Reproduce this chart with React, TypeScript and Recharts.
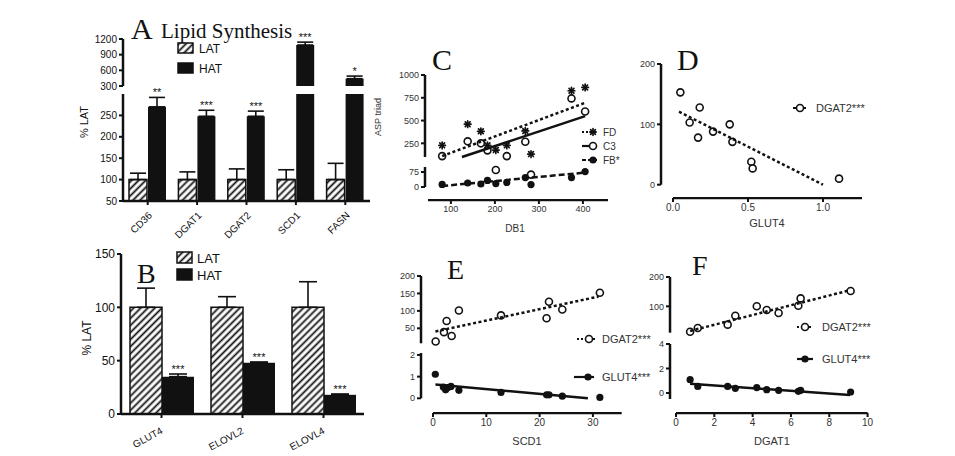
import React from "react";
import { Bar, BarChart, ErrorBar, LabelList, Scatter, ScatterChart, XAxis, YAxis } from "recharts";

const SANS = "'Liberation Sans', Arial, sans-serif";
const SERIF = "'Liberation Serif', 'Times New Roman', serif";
const INK = "#111";
const GREY = "#333";

// A: lipid synthesis genes (% of LAT)
const genesA = ["CD36", "DGAT1", "DGAT2", "SCD1", "FASN"];
const latA = [100, 100, 100, 100, 100];
const latErrA = [15, 18, 25, 23, 38];
const hatA = [270, 248, 248, 1085, 440];
const hatErrA = [22, 14, 12, 55, 50];
const sigA = ["**", "***", "***", "***", "*"];
const ticksATop = [300, 600, 900, 1200];
const ticksABottom = [50, 100, 150, 200, 250];
const breakA = 300;

// B: glucose uptake / elongases (% of LAT)
const genesB = ["GLUT4", "ELOVL2", "ELOVL4"];
const latB = [100, 100, 100];
const latErrB = [18, 10, 24];
const hatB = [35, 48, 18];
const hatErrB = [2.5, 0.8, 0.8];
const sigB = ["***", "***", "***"];
const ticksB = [0, 50, 100, 150];

// C: ASP triad vs DB1
const db1 = [80, 138, 168, 183, 202, 227, 269, 282, 374, 405];
const aspFD = [228, 460, 382, 228, 176, 228, 386, 132, 827, 864];
const aspC3 = [110, 272, 250, 173, 85, 110, 268, 62, 743, 600];
const aspFB = [13, 20, 15, 33, 17, 23, 47, 12, 47, 77];
const fitFdX = [80, 405];
const fitFdY = [110, 695];
const fitC3X = [125, 405];
const fitC3Y = [100, 548];
const fitFbX = [80, 405];
const fitFbY = [5, 72];

// D: DGAT2 vs GLUT4
const glut4D = [0.049, 0.111, 0.178, 0.167, 0.267, 0.378, 0.396, 0.522, 0.531, 1.107];
const dgat2D = [153, 103, 128, 78, 88, 100, 71, 38, 27, 10];
const fitDX = [0.04, 1.0];
const fitDY = [121, 0];

// E: DGAT2 and GLUT4 vs SCD1
const scd1Dgat2 = [0.44, 2, 2.5, 3.44, 4.8, 12.7, 21.25, 21.7, 24.2, 31.25];
const dgat2E = [12, 39, 71, 28, 101, 87, 79, 126, 104, 152];
const scd1Glut4 = [0.375, 1.875, 2.31, 2.69, 3.31, 4.8, 12.7, 21.25, 21.7, 24.2, 31.25];
const glut4E = [1.11, 0.52, 0.39, 0.49, 0.55, 0.37, 0.27, 0.16, 0.16, 0.1, 0.04];
const fitEDgat2X = [0.4, 31];
const fitEDgat2Y = [41, 141];
const fitEGlut4X = [0.4, 29];
const fitEGlut4Y = [0.64, 0];

// F: DGAT2 and GLUT4 vs DGAT1
const dgat1F = [0.75, 1.15, 2.71, 3.11, 4.23, 4.75, 5.37, 6.4, 6.52, 9.13];
const dgat2F = [13, 26, 37.5, 68, 100, 87.5, 77, 102, 127, 152];
const glut4F = [1.09, 0.54, 0.54, 0.38, 0.44, 0.27, 0.22, 0.14, 0.22, 0.08];
const fitFDgat2X = [0.75, 9.1];
const fitFDgat2Y = [16, 155];
const fitFGlut4X = [0.75, 9.1];
const fitFGlut4Y = [0.76, -0.16];

const pts = (xs: number[], ys: number[]) => xs.map((x, i) => ({ x, y: ys[i] }));
const above = (xs: number[], ys: number[], lo: number) => pts(xs, ys).filter((p) => p.y >= lo);
const below = (xs: number[], ys: number[], lo: number) => pts(xs, ys).filter((p) => p.y < lo);

type Keep = (v: number) => boolean;

// rows for one segment of a (possibly broken) bar axis; values outside the segment become gaps
const barRows = (genes: string[], lat: number[], latErr: number[], hat: number[], hatErr: number[], keep: Keep = () => true) =>
  genes.map((gene, i) => ({
    gene,
    idx: i,
    lat: keep(lat[i]) ? lat[i] : null,
    latErr: [0, latErr[i]],
    hat: keep(hat[i]) ? hat[i] : null,
    hatErr: [0, hatErr[i]],
  }));

const rowsATop = barRows(genesA, latA, latErrA, hatA, hatErrA, (v) => v > breakA);
const rowsABottom = barRows(genesA, latA, latErrA, hatA, hatErrA);
const rowsB = barRows(genesB, latB, latErrB, hatB, hatErrB);

type FrameOpts = { yw?: number; left?: number; top?: number; right?: number; bottom?: number; xh?: number };

// positions a fixed-size chart so its plot area lands on (x0,y0)-(x1,y1)
function frame(x0: number, y0: number, x1: number, y1: number, o: FrameOpts = {}) {
  const { yw = 40, left = 40, top = 10, right = 10, bottom = 0, xh = 0 } = o;
  return {
    style: { position: "absolute" as const, left: x0 - left, top: y0 - top },
    width: left + (x1 - x0) + right,
    height: top + (y1 - y0) + xh + bottom,
    margin: { top, right, bottom, left: left - yw },
  };
}

const yAxisStyle = (fontSize: number, fill: string) => ({
  width: 40,
  axisLine: { stroke: INK, strokeWidth: 2.5 },
  tickLine: { stroke: INK, strokeWidth: 2 },
  tickSize: 4,
  interval: 0 as const,
  allowDataOverflow: true,
  tick: { fontSize, fill, fontFamily: SANS },
});

const xAxisStyle = (fontSize: number, fill: string) => ({
  axisLine: { stroke: INK, strokeWidth: 2.5 },
  tickLine: { stroke: INK, strokeWidth: 2 },
  tickSize: 4,
  interval: 0 as const,
  tick: { fontSize, fill, fontFamily: SANS },
});

function Hatch() {
  return (
    <defs>
      <pattern id="hatch" width={5} height={5} patternUnits="userSpaceOnUse" patternTransform="rotate(45)">
        <rect width={5} height={5} fill="#fff" />
        <line x1={2.5} y1={0} x2={2.5} y2={5} stroke={INK} strokeWidth={1.8} />
      </pattern>
    </defs>
  );
}

function SlantTick(props: any) {
  const { x, y, payload, angle, dx, dy, size } = props;
  const ax = x + dx;
  const ay = y + dy;
  return (
    <text x={ax} y={ay} transform={`rotate(${angle} ${ax} ${ay})`} textAnchor="end" fontSize={size} fontFamily={SANS} fill={INK}>
      {payload.value}
    </text>
  );
}

// significance stars sit just above the error-bar cap
function sigLabel(sig: string[], vals: number[], errs: number[], k: number, keep: Keep) {
  return (p: any) => {
    const vb = p.viewBox ?? p;
    const i = Number(p.value);
    if (!keep(vals[i])) return null;
    const cx = vb.x + vb.width / 2;
    const capY = vb.y - errs[i] * k;
    return (
      <text key={i} x={cx} y={capY - 1} textAnchor="middle" fontSize={11} fontFamily={SANS} fill={INK}>
        {sig[i]}
      </text>
    );
  };
}

const OpenDot = (p: any) => <circle cx={p.cx} cy={p.cy} r={3.5} fill="#fff" stroke={INK} strokeWidth={1.6} />;
const FilledDot = (p: any) => <circle cx={p.cx} cy={p.cy} r={3.6} fill={INK} />;
const StarDot = (p: any) => (
  <g stroke={INK} strokeWidth={1.7} strokeLinecap="round">
    <line x1={p.cx - 3.3} y1={p.cy} x2={p.cx + 3.3} y2={p.cy} />
    <line x1={p.cx} y1={p.cy - 3.3} x2={p.cx} y2={p.cy + 3.3} />
    <line x1={p.cx - 2.4} y1={p.cy - 2.4} x2={p.cx + 2.4} y2={p.cy + 2.4} />
    <line x1={p.cx - 2.4} y1={p.cy + 2.4} x2={p.cx + 2.4} y2={p.cy - 2.4} />
  </g>
);
const NoDot = () => <g />;

const fitLine = (dash?: string) => ({ stroke: INK, strokeWidth: 2.5, strokeDasharray: dash });
const DOTTED = "3 2.5";
const DASHED = "6 3";

// plot boxes (page pixels)
const A_TOP = { x0: 123, y0: 39, x1: 370, y1: 86 };
const A_BOT = { x0: 123, y0: 94, x1: 370, y1: 201 };
const B_BOX = { x0: 121, y0: 254, x1: 364, y1: 414 };

function PanelA() {
  const top = frame(A_TOP.x0, A_TOP.y0, A_TOP.x1, A_TOP.y1, { top: 10, bottom: 6 });
  const bot = frame(A_BOT.x0, A_BOT.y0, A_BOT.x1, A_BOT.y1, { top: 10, xh: 45 });
  const kTop = (A_TOP.y1 - A_TOP.y0) / (1200 - breakA);
  const kBot = (A_BOT.y1 - A_BOT.y0) / (breakA - 50);
  const bars = (k: number, keep: Keep) => [
    <Bar key="lat" dataKey="lat" fill="url(#hatch)" stroke={INK} strokeWidth={1.5} isAnimationActive={false}>
      <ErrorBar dataKey="latErr" width={8} stroke={INK} strokeWidth={1.6} direction="y" />
    </Bar>,
    <Bar key="hat" dataKey="hat" fill={INK} isAnimationActive={false}>
      <ErrorBar dataKey="hatErr" width={8} stroke={INK} strokeWidth={1.6} direction="y" />
      <LabelList dataKey="idx" content={sigLabel(sigA, hatA, hatErrA, k, keep)} />
    </Bar>,
  ];
  return (
    <>
      <div style={top.style}>
        <BarChart width={top.width} height={top.height} margin={top.margin} data={rowsATop} barSize={18} barGap={1}>
          <Hatch />
          <XAxis dataKey="gene" hide />
          <YAxis {...yAxisStyle(10, INK)} domain={[breakA, 1200]} ticks={ticksATop} />
          {bars(kTop, (v) => v > breakA)}
        </BarChart>
      </div>
      <div style={bot.style}>
        <BarChart width={bot.width} height={bot.height} margin={bot.margin} data={rowsABottom} barSize={18} barGap={1}>
          <Hatch />
          <XAxis
            dataKey="gene"
            height={45}
            {...xAxisStyle(10, INK)}
            tick={<SlantTick angle={-45} dx={5} dy={9} size={10} />}
          />
          <YAxis {...yAxisStyle(10, INK)} domain={[50, breakA]} ticks={ticksABottom} />
          {bars(kBot, (v) => v <= breakA)}
        </BarChart>
      </div>
    </>
  );
}

function PanelB() {
  const f = frame(B_BOX.x0, B_BOX.y0, B_BOX.x1, B_BOX.y1, { top: 10, xh: 45 });
  const k = (B_BOX.y1 - B_BOX.y0) / 150;
  return (
    <div style={f.style}>
      <BarChart width={f.width} height={f.height} margin={f.margin} data={rowsB} barSize={32} barGap={0}>
        <Hatch />
        <XAxis dataKey="gene" height={45} {...xAxisStyle(10, INK)} tick={<SlantTick angle={-28} dx={2} dy={13} size={10} />} />
        <YAxis {...yAxisStyle(12, INK)} domain={[0, 150]} ticks={ticksB} />
        <Bar dataKey="lat" fill="url(#hatch)" stroke={INK} strokeWidth={1.5} isAnimationActive={false}>
          <ErrorBar dataKey="latErr" width={9} stroke={INK} strokeWidth={1.6} direction="y" />
        </Bar>
        <Bar dataKey="hat" fill={INK} isAnimationActive={false}>
          <ErrorBar dataKey="hatErr" width={9} stroke={INK} strokeWidth={1.6} direction="y" />
          <LabelList dataKey="idx" content={sigLabel(sigB, hatB, hatErrB, k, () => true)} />
        </Bar>
      </BarChart>
    </div>
  );
}

// bare x axis drawn a little below the y-axis segments
function AxisStrip(props: { x0: number; x1: number; y: number; domain: number[]; ticks: number[]; fmt?: (v: number) => string; size: number }) {
  const f = frame(props.x0, props.y - 1, props.x1, props.y, { yw: 0, left: 12, top: 0, right: 12, xh: 22 });
  return (
    <div style={f.style}>
      <ScatterChart width={f.width} height={f.height} margin={f.margin}>
        <XAxis
          type="number"
          dataKey="x"
          domain={props.domain}
          ticks={props.ticks}
          tickFormatter={props.fmt}
          height={22}
          allowDataOverflow
          {...xAxisStyle(props.size, GREY)}
        />
        <YAxis type="number" dataKey="y" domain={[0, 1]} hide />
        <Scatter data={[]} isAnimationActive={false} />
      </ScatterChart>
    </div>
  );
}

type Seg = { y0: number; y1: number; domain: number[]; ticks: number[] };

function ScatterSeg(props: { x0: number; x1: number; xDomain: number[]; seg: Seg; size: number; children: React.ReactNode }) {
  const { seg } = props;
  const f = frame(props.x0, seg.y0, props.x1, seg.y1, { top: 6, bottom: 6 });
  return (
    <div style={f.style}>
      <ScatterChart width={f.width} height={f.height} margin={f.margin}>
        <XAxis type="number" dataKey="x" domain={props.xDomain} hide />
        <YAxis type="number" dataKey="y" {...yAxisStyle(props.size, GREY)} allowDataOverflow={false} domain={seg.domain} ticks={seg.ticks} />
        {props.children}
      </ScatterChart>
    </div>
  );
}

function PanelC() {
  const xd = [41, 457];
  const top: Seg = { y0: 75, y1: 157, domain: [100, 1000], ticks: [250, 500, 750, 1000] };
  const bot: Seg = { y0: 166.7, y1: 186.7, domain: [0, 100], ticks: [0, 75] };
  return (
    <>
      <ScatterSeg x0={425} x1={608} xDomain={xd} seg={top} size={9}>
        <Scatter data={above(db1, aspFD, 100)} shape={StarDot} isAnimationActive={false} />
        <Scatter data={above(db1, aspC3, 100)} shape={OpenDot} isAnimationActive={false} />
        <Scatter data={pts(fitFdX, fitFdY)} line={fitLine(DOTTED)} shape={NoDot} isAnimationActive={false} />
        <Scatter data={pts(fitC3X, fitC3Y)} line={fitLine()} shape={NoDot} isAnimationActive={false} />
      </ScatterSeg>
      <ScatterSeg x0={425} x1={608} xDomain={xd} seg={bot} size={9}>
        <Scatter data={below(db1, aspC3, 100)} shape={OpenDot} isAnimationActive={false} />
        <Scatter data={pts(db1, aspFB)} shape={FilledDot} isAnimationActive={false} />
        <Scatter data={pts(fitFbX, fitFbY)} line={fitLine(DASHED)} shape={NoDot} isAnimationActive={false} />
      </ScatterSeg>
      <AxisStrip x0={428} x1={608} y={200} domain={[48, 457]} ticks={[100, 200, 300, 400]} size={9} />
    </>
  );
}

function PanelD() {
  const seg: Seg = { y0: 64.3, y1: 185, domain: [0, 200], ticks: [0, 100, 200] };
  return (
    <>
      <ScatterSeg x0={661} x1={862} xDomain={[-0.08, 1.26]} seg={seg} size={9}>
        <Scatter data={pts(glut4D, dgat2D)} shape={OpenDot} isAnimationActive={false} />
        <Scatter data={pts(fitDX, fitDY)} line={fitLine(DOTTED)} shape={NoDot} isAnimationActive={false} />
      </ScatterSeg>
      <AxisStrip x0={673} x1={862} y={197.7} domain={[0, 1.26]} ticks={[0, 0.5, 1]} fmt={(v) => v.toFixed(1)} size={10} />
    </>
  );
}

function PanelE() {
  const xd = [-2.31, 35.4];
  const top: Seg = { y0: 276, y1: 343.3, domain: [7, 200], ticks: [50, 100, 150, 200] };
  const bot: Seg = { y0: 353, y1: 398.3, domain: [0, 2.09], ticks: [0, 1, 2] };
  return (
    <>
      <ScatterSeg x0={421} x1={622} xDomain={xd} seg={top} size={9}>
        <Scatter data={pts(scd1Dgat2, dgat2E)} shape={OpenDot} isAnimationActive={false} />
        <Scatter data={pts(fitEDgat2X, fitEDgat2Y)} line={fitLine(DOTTED)} shape={NoDot} isAnimationActive={false} />
      </ScatterSeg>
      <ScatterSeg x0={421} x1={622} xDomain={xd} seg={bot} size={9}>
        <Scatter data={pts(scd1Glut4, glut4E)} shape={FilledDot} isAnimationActive={false} />
        <Scatter data={pts(fitEGlut4X, fitEGlut4Y)} line={fitLine()} shape={NoDot} isAnimationActive={false} />
      </ScatterSeg>
      <AxisStrip x0={433.3} x1={622} y={412.7} domain={[0, 35.4]} ticks={[0, 10, 20, 30]} size={10} />
    </>
  );
}

function PanelF() {
  const xd = [-0.3, 10];
  const top: Seg = { y0: 276.7, y1: 332.4, domain: [10, 200], ticks: [100, 200] };
  const bot: Seg = { y0: 344.3, y1: 399.3, domain: [-0.49, 4], ticks: [0, 2, 4] };
  return (
    <>
      <ScatterSeg x0={670} x1={867.3} xDomain={xd} seg={top} size={9}>
        <Scatter data={pts(dgat1F, dgat2F)} shape={OpenDot} isAnimationActive={false} />
        <Scatter data={pts(fitFDgat2X, fitFDgat2Y)} line={fitLine(DOTTED)} shape={NoDot} isAnimationActive={false} />
      </ScatterSeg>
      <ScatterSeg x0={670} x1={867.3} xDomain={xd} seg={bot} size={9}>
        <Scatter data={pts(dgat1F, glut4F)} shape={FilledDot} isAnimationActive={false} />
        <Scatter data={pts(fitFGlut4X, fitFGlut4Y)} line={fitLine()} shape={NoDot} isAnimationActive={false} />
      </ScatterSeg>
      <AxisStrip x0={675.7} x1={867.3} y={412.7} domain={[0, 10]} ticks={[0, 2, 4, 6, 8, 10]} size={10} />
    </>
  );
}

// legend entry: short line with a marker, then the label
function Key(props: { x: number; y: number; w: number; mx: number; tx: number; dash?: string; mark: "open" | "filled" | "star"; label: string; size: number }) {
  const { x, y, w, mx, tx, dash, mark, label, size } = props;
  return (
    <g>
      <line x1={x} y1={y} x2={x + w} y2={y} stroke={INK} strokeWidth={2.2} strokeDasharray={dash} />
      {mark === "open" && <OpenDot cx={mx} cy={y} />}
      {mark === "filled" && <FilledDot cx={mx} cy={y} />}
      {mark === "star" && <StarDot cx={mx} cy={y} />}
      <text x={tx} y={y + size * 0.36} fontSize={size} fontFamily={SANS} fill={GREY}>
        {label}
      </text>
    </g>
  );
}

function BoxKey(props: { x: number; y: number; w: number; h: number; hatch: boolean; label: string; size: number; tx: number }) {
  const { x, y, w, h, hatch, label, size, tx } = props;
  return (
    <g>
      <rect x={x} y={y} width={w} height={h} fill={hatch ? "url(#hatch)" : INK} stroke={INK} strokeWidth={1.5} />
      <text x={tx} y={y + h} fontSize={size} fontFamily={SANS} fill={INK}>
        {label}
      </text>
    </g>
  );
}

function Overlay() {
  const letter = { fontFamily: SERIF, fontSize: 30, fill: INK };
  const axisTitle = { fontFamily: SANS, fontSize: 11, fill: GREY, textAnchor: "middle" as const };
  return (
    <svg width={955} height={456} style={{ position: "absolute", left: 0, top: 0, pointerEvents: "none" }}>
      <Hatch />
      {/* A */}
      <text x={131} y={39} {...letter}>A</text>
      <text x={161} y={38} fontFamily={SERIF} fontSize={21} fill={INK}>Lipid Synthesis</text>
      <BoxKey x={178} y={43} w={15} h={10} hatch label="LAT" size={12} tx={199} />
      <BoxKey x={178} y={63} w={15} h={10} hatch={false} label="HAT" size={12} tx={199} />
      <text x={88} y={122} transform="rotate(-90 88 122)" fontFamily={SANS} fontSize={11} fill={INK} textAnchor="middle">% LAT</text>
      {/* B */}
      <text x={137} y={283} {...letter} fontSize={28}>B</text>
      <BoxKey x={177} y={252} w={15} h={11} hatch label="LAT" size={13} tx={197} />
      <BoxKey x={177} y={269} w={15} h={11} hatch={false} label="HAT" size={13} tx={197} />
      <text x={91} y={338} transform="rotate(-90 91 338)" fontFamily={SANS} fontSize={12} fill={INK} textAnchor="middle">% LAT</text>
      {/* C */}
      <text x={432} y={70} {...letter}>C</text>
      <text x={381} y={117} transform="rotate(-90 381 117)" fontFamily={SANS} fontSize={9} fill={GREY} textAnchor="middle">ASP triad</text>
      <text x={515} y={232} {...axisTitle} fontSize={10}>DB1</text>
      <Key x={582} y={132} w={15} mx={593} tx={603} dash="2 2" mark="star" label="FD" size={10} />
      <Key x={582} y={146} w={15} mx={593} tx={603} mark="open" label="C3" size={10} />
      <Key x={582} y={160} w={15} mx={593} tx={603} dash="4 2" mark="filled" label="FB*" size={10} />
      {/* D */}
      <text x={677} y={70} {...letter}>D</text>
      <text x={767} y={227} {...axisTitle}>GLUT4</text>
      <Key x={793} y={108} w={15} mx={800} tx={816} dash="3 2" mark="open" label="DGAT2***" size={11} />
      {/* E */}
      <text x={447} y={279} {...letter} fontSize={28}>E</text>
      <text x={527} y={445} {...axisTitle}>SCD1</text>
      <Key x={577} y={339} w={18} mx={589} tx={602} dash="2 2" mark="open" label="DGAT2***" size={11} />
      <Key x={574} y={377} w={20} mx={588} tx={602} mark="filled" label="GLUT4***" size={11} />
      {/* F */}
      <text x={692} y={275} {...letter} fontSize={28}>F</text>
      <text x={772} y={445} {...axisTitle}>DGAT1</text>
      <Key x={797} y={327} w={16} mx={805} tx={822} dash="2 2" mark="open" label="DGAT2***" size={11} />
      <Key x={797} y={359} w={16} mx={805} tx={822} mark="filled" label="GLUT4***" size={11} />
    </svg>
  );
}

export default function App() {
  return (
    <div style={{ position: "absolute", left: 0, top: 0, width: 955, height: 456, background: "#fff", overflow: "hidden" }}>
      <PanelA />
      <PanelB />
      <PanelC />
      <PanelD />
      <PanelE />
      <PanelF />
      <Overlay />
    </div>
  );
}
